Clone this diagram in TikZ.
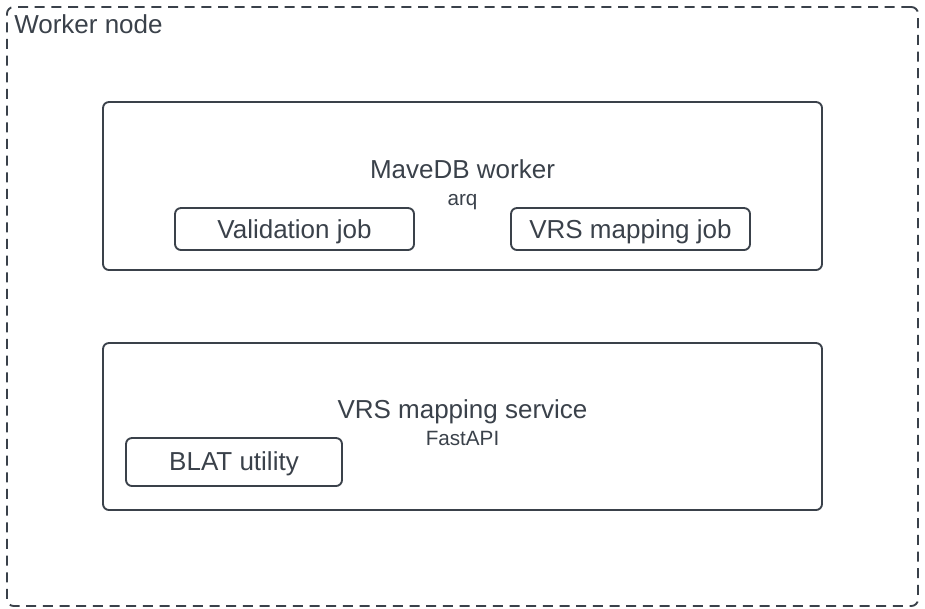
\documentclass[tikz,border=0pt]{standalone}
\usepackage{fontspec}
\setmainfont{Liberation Sans}
\usetikzlibrary{positioning}
\definecolor{ink}{RGB}{58,65,74}

\begin{document}
\begin{tikzpicture}[
        x=0.75pt,y=-0.75pt,
        outer/.style={
          draw=ink,
          dashed,
          dash pattern=on 7.5pt off 5pt,
          line width=1.4pt,
          rounded corners=5pt,
          minimum width=683.25pt,
          minimum height=449.25pt
          },
        group/.style={
          draw=ink,
          line width=1.4pt,
          rounded corners=4.5pt,
          minimum width=539.25pt
          },
        job/.style={
          draw=ink,
          line width=1.4pt,
          rounded corners=4.5pt,
          text=ink,
          font=\fontsize{19.5}{22}\selectfont,
          text depth=0pt,
          inner sep=0pt
          },
        title/.style={
          text=ink,
          inner sep=0pt,
          text depth=0pt,
          font=\fontsize{19.5}{22}\selectfont
          },
        sub/.style={
          text=ink,
          inner sep=0pt,
          text depth=0pt,
          font=\fontsize{15.5}{18}\selectfont
          }
        ]
        \useasboundingbox (0,0) rectangle (925,608);
        % frame of the worker node
        \node[outer] (node) at (462.5,306.5) {};
        \node[title, anchor=west] (nodelbl) at (14,24) {Worker node};
        % MaveDB worker
        \node[group, minimum height=126pt] (worker) at (462.5,186) {};
        \node[title] (workerlbl) at (462.5,169) {MaveDB worker};
        \node[sub] (arq) at (462.5,200) {arq};
        \node[job, minimum width=179.25pt, minimum height=31.5pt] (valjob) at (294.5,229) {Validation job};
        \node[job, minimum width=179.25pt, minimum height=31.5pt] (vrsjob) at (630.5,229) {VRS mapping job};
        % VRS mapping service
        \node[group, minimum height=125.25pt] (service) at (462.5,426.5) {};
        \node[title] (servicelbl) at (462.5,409) {VRS mapping service};
        \node[sub] (fastapi) at (462.5,438) {FastAPI};
        \node[job, minimum width=162pt, minimum height=36pt, text depth=2pt] (blat) at (234,462) {BLAT utility};
        \end{tikzpicture}
\end{document}
